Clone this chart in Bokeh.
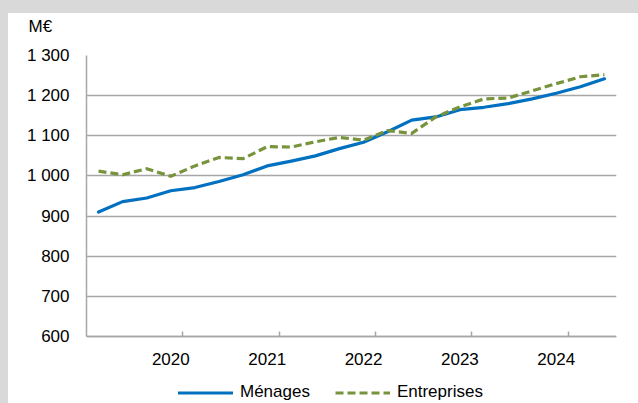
from bokeh.plotting import figure
from bokeh.models import (Range1d, FixedTicker, Legend, LegendItem, Title,
                          ColumnDataSource, Spacer)
from bokeh.layouts import column, row
from bokeh.embed import file_html
from bokeh.resources import INLINE

# ---------------- data ----------------
quarters = ["T1 2020", "T2 2020", "T3 2020", "T4 2020",
            "T1 2021", "T2 2021", "T3 2021", "T4 2021",
            "T1 2022", "T2 2022", "T3 2022", "T4 2022",
            "T1 2023", "T2 2023", "T3 2023", "T4 2023",
            "T1 2024", "T2 2024", "T3 2024", "T4 2024",
            "T1 2025", "T2 2025"]
menages = [910, 936, 945, 963, 971, 986, 1003, 1025, 1037, 1050, 1068,
           1084, 1110, 1139, 1147, 1165, 1171, 1180, 1192, 1206, 1222, 1242]
entreprises = [1012, 1003, 1018, 999, 1025, 1046, 1043, 1073, 1072, 1085, 1096,
               1089, 1113, 1106, 1147, 1172, 1192, 1194, 1212, 1230, 1247, 1252]
years = ["2020", "2021", "2022", "2023", "2024"]
y_ticks = [600, 700, 800, 900, 1000, 1100, 1200, 1300]
y_tick_labels = ["600", "700", "800", "900", "1 000", "1 100", "1 200", "1 300"]
unit_label = "M€"
series_names = ["Ménages", "Entreprises"]

# ---------------- style / layout ----------------
FONT = "Liberation Sans"
FSIZE = "17px"
BLUE = "#0070C0"
GREEN = "#77933C"
GRID = "#a6a6a6"
TEXT = "#000000"
PAGE_BG = "#d9d9d9"

CANVAS_W, CANVAS_H = 630, 390
LEFT_PX, TOP_PX, RIGHT_PX = 78, 42, 22
PLOT_PX = 281            # height of the 600..1300 band
BELOW_PX = CANVAS_H - TOP_PX - PLOT_PX   # room under the x axis (labels + legend)

y_lo, y_hi = y_ticks[0], y_ticks[-1]
y_bottom = y_lo - BELOW_PX * (y_hi - y_lo) / PLOT_PX

xs = list(range(len(quarters)))
src = ColumnDataSource(dict(x=xs, menages=menages, entreprises=entreprises, q=quarters))

p = figure(width=CANVAS_W, height=CANVAS_H,
           x_range=Range1d(-0.5, len(quarters) - 0.5),
           y_range=Range1d(y_bottom, y_hi),
           output_backend="svg", toolbar_location=None,
           min_border_left=LEFT_PX, min_border_top=TOP_PX,
           min_border_right=RIGHT_PX, min_border_bottom=0)
p.outline_line_color = None
p.background_fill_color = "white"
p.border_fill_color = "white"

r1 = p.line("x", "menages", source=src, line_color=BLUE, line_width=3.2,
            line_join="round", line_cap="round")
r2 = p.line("x", "entreprises", source=src, line_color=GREEN, line_width=3.2,
            line_dash="8 4", line_join="round")

# x axis at value 600: labels at the 4th quarter of each year, tick marks between years
label_pos = [quarters.index("T4 " + y) for y in years]
bound_pos = [quarters.index("T1 " + str(int(y) + 1)) - 0.5 for y in years]
xax = p.xaxis[0]
xax.fixed_location = y_lo
xax.ticker = FixedTicker(ticks=label_pos, minor_ticks=bound_pos)
xax.major_label_overrides = {pos: y for pos, y in zip(label_pos, years)}
xax.major_tick_line_color = None
xax.minor_tick_in = 5
xax.minor_tick_out = 0
xax.minor_tick_line_color = GRID
xax.minor_tick_line_width = 1.5
xax.axis_line_color = GRID
xax.axis_line_width = 1.5
xax.major_label_standoff = 10
xax.major_label_text_font = FONT
xax.major_label_text_font_size = FSIZE
xax.major_label_text_color = TEXT

yax = p.yaxis[0]
yax.bounds = (y_lo, y_hi)
yax.ticker = FixedTicker(ticks=y_ticks)
yax.major_label_overrides = {t: l for t, l in zip(y_ticks, y_tick_labels)}
yax.major_tick_line_color = None
yax.major_tick_out = 0
yax.major_tick_in = 0
yax.minor_tick_line_color = None
yax.axis_line_color = GRID
yax.axis_line_width = 1.5
yax.major_label_standoff = 17
yax.major_label_text_font = FONT
yax.major_label_text_font_size = FSIZE
yax.major_label_text_color = TEXT

p.xgrid.grid_line_color = None
p.ygrid.grid_line_color = GRID
p.ygrid.grid_line_width = 1.5

# unit label above the y axis (second, blank line lifts it to the top)
p.add_layout(Title(text=unit_label + "\n\u00a0", align="left", offset=-58, standoff=1,
                   text_font=FONT, text_font_size=FSIZE,
                   text_font_style="normal", text_color=TEXT), "above")

legend = Legend(items=[LegendItem(label=series_names[0], renderers=[r1]),
                       LegendItem(label=series_names[1], renderers=[r2])],
                orientation="horizontal", location=(92, 1),
                glyph_width=55, glyph_height=17, label_height=17,
                label_standoff=7, spacing=25, padding=0, margin=0,
                border_line_color=None, background_fill_alpha=0,
                label_text_font=FONT, label_text_font_size=FSIZE,
                label_text_color=TEXT)
p.add_layout(legend)

top_strip = Spacer(width=638, height=13, styles={"background-color": PAGE_BG})
left_strip = Spacer(width=8, height=CANVAS_H, styles={"background-color": PAGE_BG})
page = column(top_strip, row(left_strip, p, spacing=0), spacing=0)

open("out.html", "w").write(file_html(page, INLINE))
